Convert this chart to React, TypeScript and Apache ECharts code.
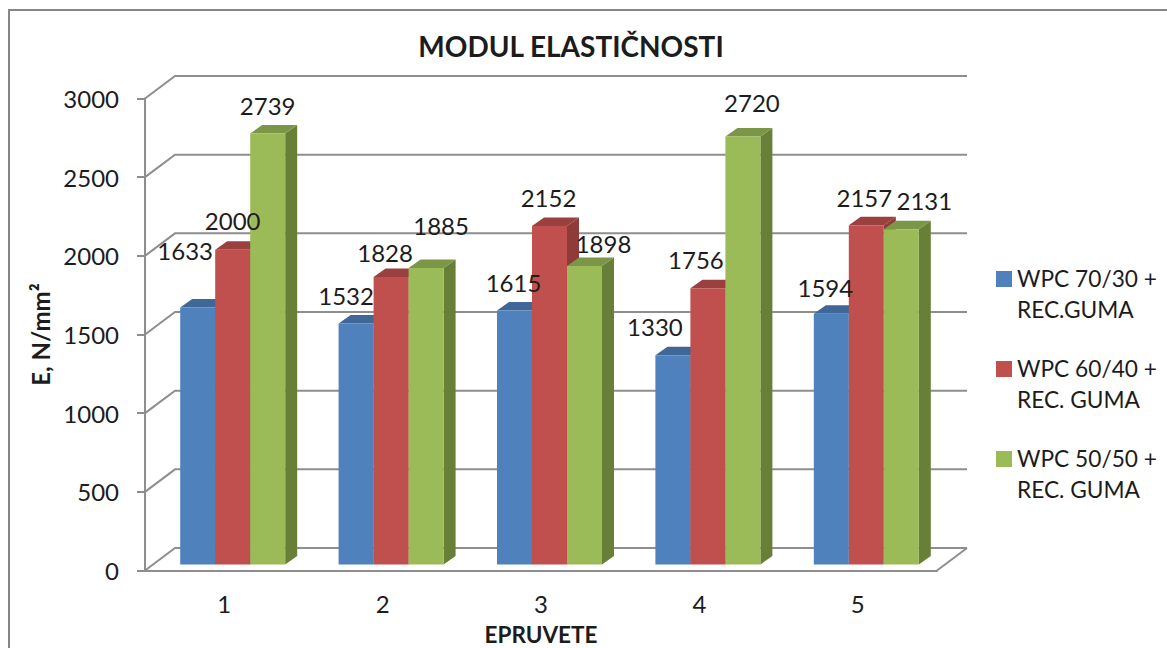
import React, { useEffect, useRef } from "react";
import * as echarts from "echarts";

const categories = ["1", "2", "3", "4", "5"];
const seriesNames = ["WPC 70/30 +\nREC.GUMA", "WPC 60/40 +\nREC. GUMA", "WPC 50/50 +\nREC. GUMA"];
const values70 = [1633, 1532, 1615, 1330, 1594];
const values60 = [2000, 1828, 2152, 1756, 2157];
const values50 = [2739, 1885, 1898, 2720, 2131];
const yTicks = [0, 500, 1000, 1500, 2000, 2500, 3000];

const frontColors = ["#4F81BD", "#C0504D", "#9BBB59"];
const topColors = ["#3F6797", "#9A403E", "#7C9647"];
const sideColors = ["#3A5F8C", "#8E3B39", "#677F37"];
const axisGray = "#8E8E8E";
const textColor = "#1c1c1c";
const FONT = "Lato";

// label nudges (px) relative to the top-centre of each bar's front face
const labelNudge70 = [[-12.5, -57], [-10, -28], [-1, -28], [-18, -29], [-6, -26]];
const labelNudge60 = [[0, -29], [-6, -24], [-1, -28], [-12, -29], [-2, -28]];
const labelNudge50 = [[0, -28], [15, -42], [19, -22], [9, -34], [23, -29]];

const WALL_DX = 30;
const WALL_DY = -22.5;
const BAR_SHIFT_X = 8.5;
const BAR_SHIFT_Y = -6;
const BAR_DEPTH_X = 12;
const BAR_DEPTH_Y = -8.5;
const BAR_RATIO = 35 / 158.4;

function barSeries(idx: number, values: number[], nudges: number[][]) {
  return {
    type: "custom",
    name: seriesNames[idx],
    itemStyle: { color: frontColors[idx] },
    data: values.map((v, i) => [i, v]),
    encode: { x: 0, y: 1 },
    silent: true,
    renderItem: (params: any, api: any) => {
      const i = api.value(0);
      const v = api.value(1);
      const band = api.size([1, 0])[0];
      const w = band * BAR_RATIO;
      const top = api.coord([i, v]);
      const base = api.coord([i, 0]);
      const cx = top[0] + BAR_SHIFT_X + (idx - 1) * w;
      const x0 = cx - w / 2;
      const x1 = cx + w / 2;
      const yT = top[1] + BAR_SHIFT_Y;
      const yB = base[1] + BAR_SHIFT_Y;
      const dx = BAR_DEPTH_X;
      const dy = BAR_DEPTH_Y;
      const nudge = nudges[params.dataIndex];
      return {
        type: "group",
        children: [
          {
            type: "polygon",
            shape: { points: [[x1, yT], [x1 + dx, yT + dy], [x1 + dx, yB + dy], [x1, yB]] },
            style: { fill: sideColors[idx] },
          },
          {
            type: "polygon",
            shape: { points: [[x0, yT], [x0 + dx, yT + dy], [x1 + dx, yT + dy], [x1, yT]] },
            style: { fill: topColors[idx] },
          },
          {
            type: "rect",
            shape: { x: x0, y: yT, width: w, height: yB - yT },
            style: { fill: frontColors[idx] },
          },
          {
            type: "text",
            z2: 100,
            x: cx + nudge[0],
            y: yT + nudge[1],
            style: {
              text: String(v),
              fill: textColor,
              font: `24px ${FONT}`,
              align: "center",
              verticalAlign: "middle",
            },
          },
        ],
      };
    },
  };
}

const wallSeries = {
  type: "custom",
  name: "walls",
  silent: true,
  z: 1,
  data: yTicks.map((t) => [0, t]),
  encode: { x: 0, y: 1 },
  renderItem: (params: any, api: any) => {
    const cs = params.coordSys;
    const y = api.coord([0, api.value(1)])[1];
    const left = cs.x;
    const right = cs.x + cs.width;
    const children: any[] = [
      {
        type: "polyline",
        shape: { points: [[left, y], [left + WALL_DX, y + WALL_DY], [right + WALL_DX, y + WALL_DY]] },
        style: { stroke: axisGray, lineWidth: 2, fill: "none" },
      },
    ];
    if (api.value(1) === 0) {
      children.push({
        type: "line",
        shape: { x1: right, y1: y, x2: right + WALL_DX, y2: y + WALL_DY },
        style: { stroke: axisGray, lineWidth: 2 },
      });
    }
    return { type: "group", children };
  },
};

const FRAME_ICON = "path://M0,0H16V16H0Z M0,46H0.01V46.01H0Z";

export default function App() {
  const ref = useRef<HTMLDivElement>(null);
  useEffect(() => {
    document.body.style.margin = "0";
    document.body.style.overflow = "hidden";
    const chart = echarts.init(ref.current!, undefined, { renderer: "svg" });
    chart.setOption({
      animation: false,
      backgroundColor: "#ffffff",
      textStyle: { fontFamily: FONT },
      title: {
        text: "MODUL ELASTIČNOSTI",
        left: 566,
        top: 27,
        textAlign: "center",
        textStyle: { fontFamily: FONT, fontWeight: "bold", fontSize: 28, color: textColor },
      },
      grid: { left: 145, top: 98.5, width: 792, height: 472, outerBoundsMode: "none" },
      xAxis: {
        type: "category",
        data: categories,
        name: "EPRUVETE",
        nameLocation: "middle",
        nameGap: 52,
        nameTextStyle: { fontFamily: FONT, fontWeight: "bold", fontSize: 22.5, color: textColor },
        axisLine: { show: true, lineStyle: { color: axisGray, width: 2 } },
        axisTick: { show: false },
        axisLabel: { margin: 20.5, fontFamily: FONT, fontSize: 24, color: textColor },
        splitLine: { show: false },
      },
      yAxis: {
        type: "value",
        min: 0,
        max: 3000,
        interval: 500,
        name: "E, N/mm²",
        nameLocation: "middle",
        nameGap: 90,
        nameTextStyle: { fontFamily: FONT, fontWeight: "bold", fontSize: 24, color: textColor },
        axisLine: { show: true, lineStyle: { color: axisGray, width: 2 } },
        axisTick: { show: true, length: 8, lineStyle: { color: axisGray, width: 2 } },
        axisLabel: { margin: 26, fontFamily: FONT, fontSize: 24, color: textColor, formatter: (v: number) => String(v) },
        splitLine: { show: false },
      },
      legend: {
        orient: "vertical",
        left: 996,
        top: 263,
        padding: 0,
        itemWidth: 16,
        itemHeight: 46,
        itemGap: 28,
        icon: FRAME_ICON,
        selectedMode: false,
        data: seriesNames,
        textStyle: { fontFamily: FONT, fontSize: 22.7, lineHeight: 31, color: textColor },
      },
      graphic: [
        {
          type: "rect",
          silent: true,
          z: -1,
          shape: { x: 9, y: 10, width: 1300, height: 800 },
          style: { fill: "none", stroke: "#868686", lineWidth: 2 },
        },
      ],
      series: [
        wallSeries,
        barSeries(0, values70, labelNudge70),
        barSeries(1, values60, labelNudge60),
        barSeries(2, values50, labelNudge50),
      ],
    });
    return () => chart.dispose();
  }, []);
  return <div ref={ref} style={{ width: 1167, height: 648 }} />;
}
